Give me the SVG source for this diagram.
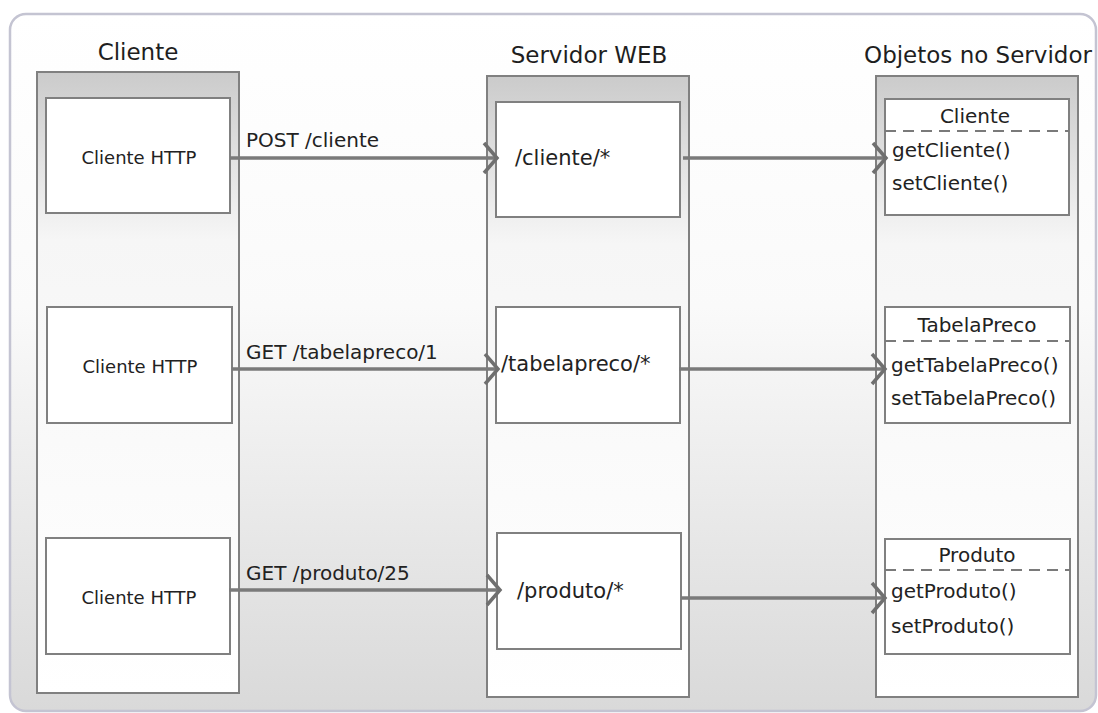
<svg xmlns="http://www.w3.org/2000/svg" width="1098" height="713" viewBox="0 0 1098 713">
<defs>
<linearGradient id="bg" x1="0" y1="0" x2="0" y2="1">
<stop offset="0" stop-color="#ffffff"/>
<stop offset="0.42" stop-color="#fafafa"/>
<stop offset="1" stop-color="#d9d9d9"/>
</linearGradient>
<linearGradient id="col" x1="0" y1="0" x2="0" y2="1">
<stop offset="0" stop-color="#cbcbcb"/>
<stop offset="0.27" stop-color="#f6f6f6"/>
<stop offset="1" stop-color="#ffffff"/>
</linearGradient>
<marker id="chev" markerUnits="userSpaceOnUse" viewBox="0 0 20 36" markerWidth="20" markerHeight="36" refX="16" refY="18" orient="auto">
<path d="M3,3 L16,18 L3,33" fill="none" stroke="#6f6f6f" stroke-width="3.5"/>
</marker>
<style>
.frame{fill:url(#bg);stroke:#c4c4d2;stroke-width:2.5}
.col{fill:url(#col);stroke:#808080;stroke-width:2}
.box{fill:#ffffff;stroke:#808080;stroke-width:2}
.dash{stroke:#7a7a7a;stroke-width:2;stroke-dasharray:11 7;fill:none}
.title{font-family:"DejaVu Sans",sans-serif;font-size:23px;fill:#1e1e1e}
.lbl{font-family:"DejaVu Sans",sans-serif;font-size:18px;fill:#222}
.path{font-family:"DejaVu Sans",sans-serif;font-size:21px;fill:#222}
.cls{font-family:"DejaVu Sans",sans-serif;font-size:20px;fill:#222}
.conn{font-family:"DejaVu Sans",sans-serif;font-size:20px;fill:#222}
.arrow{stroke:#7a7a7a;stroke-width:3.5;fill:none;marker-end:url(#chev)}
</style>
</defs>
<rect class="frame" x="10" y="14" width="1086" height="697" rx="16"/>

<g id="col-cliente">
<rect class="col" x="37" y="72" width="202" height="621"/>
<text class="title" x="138" y="60" text-anchor="middle">Cliente</text>
</g>
<g id="col-servidor">
<rect class="col" x="487" y="76" width="202" height="621"/>
<text class="title" x="589" y="63" text-anchor="middle">Servidor WEB</text>
</g>
<g id="col-objetos">
<rect class="col" x="876" y="76" width="202" height="621"/>
<text class="title" x="978" y="63" text-anchor="middle">Objetos no Servidor</text>
</g>

<g id="cliente-http-1">
<rect class="box" x="46" y="98" width="184" height="115"/>
<text class="lbl" x="139" y="164" text-anchor="middle">Cliente HTTP</text>
</g>
<g id="cliente-http-2">
<rect class="box" x="47" y="307" width="185" height="116"/>
<text class="lbl" x="140" y="373" text-anchor="middle">Cliente HTTP</text>
</g>
<g id="cliente-http-3">
<rect class="box" x="46" y="538" width="184" height="116"/>
<text class="lbl" x="139" y="604" text-anchor="middle">Cliente HTTP</text>
</g>

<g id="srv-cliente">
<rect class="box" x="496" y="102" width="184" height="115"/>
<text class="path" x="515" y="165">/cliente/*</text>
</g>
<g id="srv-tabelapreco">
<rect class="box" x="496" y="307" width="184" height="116"/>
<text class="path" x="501" y="371">/tabelapreco/*</text>
</g>
<g id="srv-produto">
<rect class="box" x="497" y="533" width="184" height="116"/>
<text class="path" x="517" y="598">/produto/*</text>
</g>

<g id="obj-cliente">
<rect class="box" x="885" y="99" width="184" height="116"/>
<line class="dash" x1="885" y1="131" x2="1069" y2="131"/>
<text class="cls" x="975" y="123" text-anchor="middle">Cliente</text>
<text class="cls" x="892" y="157">getCliente()</text>
<text class="cls" x="892" y="190">setCliente()</text>
</g>
<g id="obj-tabelapreco">
<rect class="box" x="885" y="307" width="185" height="116"/>
<line class="dash" x1="885" y1="341" x2="1070" y2="341"/>
<text class="cls" x="977" y="332" text-anchor="middle">TabelaPreco</text>
<text class="cls" x="891" y="372">getTabelaPreco()</text>
<text class="cls" x="891" y="405">setTabelaPreco()</text>
</g>
<g id="obj-produto">
<rect class="box" x="885" y="539" width="185" height="115"/>
<line class="dash" x1="885" y1="570" x2="1070" y2="570"/>
<text class="cls" x="977" y="562" text-anchor="middle">Produto</text>
<text class="cls" x="891" y="598">getProduto()</text>
<text class="cls" x="891" y="633">setProduto()</text>
</g>

<g id="connectors">
<line class="arrow" x1="230" y1="158" x2="497" y2="158"/>
<text class="conn" x="246" y="147">POST /cliente</text>
<line class="arrow" x1="683" y1="158" x2="886" y2="158"/>
<line class="arrow" x1="232" y1="369" x2="498" y2="369"/>
<text class="conn" x="246" y="359">GET /tabelapreco/1</text>
<line class="arrow" x1="679" y1="369" x2="885" y2="369"/>
<line class="arrow" x1="229" y1="590" x2="500" y2="590"/>
<text class="conn" x="246" y="580">GET /produto/25</text>
<line class="arrow" x1="681" y1="598" x2="885" y2="598"/>
</g>
</svg>
